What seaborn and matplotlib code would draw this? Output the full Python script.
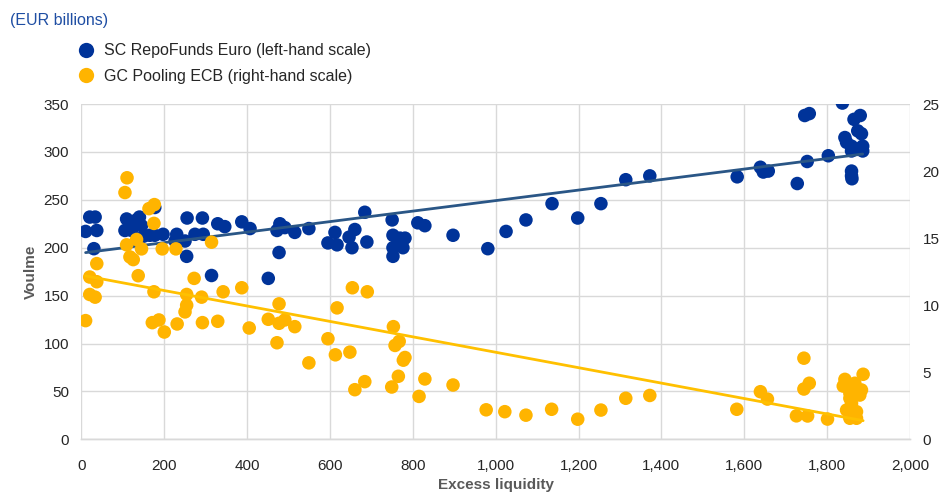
import matplotlib
matplotlib.use("Agg")
import matplotlib.pyplot as plt
from matplotlib.lines import Line2D
import seaborn as sns
import pandas as pd

# ---- data ----
sc_x = [10, 20, 33, 37, 30, 105, 109, 121, 128, 133, 140, 145, 150, 165, 177,
        177, 197, 226, 230, 250, 254, 255, 274, 292, 294, 314, 329, 346, 387, 407,
        451, 479, 472, 491, 515, 549, 684, 612, 595, 617, 660, 646, 653, 689, 750,
        752, 769, 781, 752, 776, 752, 812, 829, 897, 477, 981, 1025, 1073, 1136, 1198,
        1254, 1314, 1372, 1583, 1639, 1646, 1658, 1728, 1837, 1746, 1757, 1865, 1880, 1874, 1883,
        1843, 1847, 1859, 1886, 1871, 1859, 1886, 1752, 1803, 1859, 1859, 1860]
sc_y = [217, 232, 232, 218, 199, 218, 230, 218, 226, 229, 232, 223, 212, 213, 213,
        242, 214, 207, 214, 207, 191, 231, 214, 231, 214, 171, 225, 222, 227, 220,
        168, 225, 218, 221, 216, 220, 237, 216, 205, 203, 219, 211, 200, 206, 229,
        213, 210, 210, 200, 200, 191, 226, 223, 213, 195, 199, 217, 229, 246, 231,
        246, 271, 275, 274, 284, 279, 280, 267, 351, 338, 340, 334, 338, 322, 319,
        315, 310, 306, 306, 303, 301, 301, 290, 296, 280, 275, 272]

gc_x = [110, 105, 163, 176, 175, 109, 133, 145, 117, 125, 195, 228, 314, 37, 20,
        37, 137, 20, 33, 175, 272, 254, 254, 250, 290, 342, 387, 10, 171, 187,
        200, 231, 292, 329, 405, 451, 654, 690, 477, 617, 491, 477, 515, 472, 549,
        595, 613, 648, 753, 757, 767, 781, 777, 765, 829, 897, 684, 660, 749, 815,
        977, 1022, 1073, 1135, 1198, 1254, 1314, 1372, 1582, 1639, 1656, 1726, 1744, 1757, 1744,
        1753, 1801, 1843, 1839, 1867, 1887, 1855, 1879, 1883, 1855, 1847, 1871, 1855, 1871, 1859]
gc_y = [19.5, 18.4, 17.2, 17.5, 16.1, 14.5, 14.9, 14.2, 13.6, 13.4, 14.2, 14.2, 14.7, 13.1, 12.1,
        11.75, 12.2, 10.8, 10.6, 11.0, 12.0, 10.8, 10.0, 9.5, 10.6, 11.0, 11.3, 8.85, 8.7, 8.9,
        8.0, 8.6, 8.7, 8.8, 8.3, 8.95, 11.3, 11.0, 10.1, 9.8, 8.9, 8.65, 8.4, 7.2, 5.7,
        7.5, 6.3, 6.5, 8.4, 7.0, 7.3, 6.1, 5.9, 4.7, 4.5, 4.05, 4.3, 3.7, 3.9, 3.2,
        2.2, 2.06, 1.8, 2.24, 1.5, 2.18, 3.06, 3.27, 2.24, 3.55, 3.0, 1.75, 6.05, 4.18, 3.75,
        1.74, 1.51, 4.47, 3.97, 4.18, 4.85, 3.43, 3.3, 3.68, 3.06, 2.18, 2.06, 1.57, 1.57, 2.68]

series_names = ["SC RepoFunds Euro (left-hand scale)", "GC Pooling ECB (right-hand scale)"]
x_ticks = [0, 200, 400, 600, 800, 1000, 1200, 1400, 1600, 1800, 2000]
left_ticks = [0, 50, 100, 150, 200, 250, 300, 350]
right_ticks = [0, 5, 10, 15, 20, 25]

sc_df = pd.DataFrame({"liq": sc_x, "vol": sc_y})
gc_df = pd.DataFrame({"liq": gc_x, "vol": gc_y})

# ---- style ----
sns.set_theme(style="white")
plt.rcParams["font.family"] = ["Liberation Sans", "DejaVu Sans"]

BLUE = "#003399"
YELLOW = "#ffb400"
BLUE_LINE = "#2a5686"
YELLOW_LINE = "#ffc000"
GRID = "#d9d9d9"
TXT = "#262626"

fig = plt.figure(figsize=(9.45, 4.93), dpi=100)
ax = fig.add_axes([0.0862, 0.1089, 0.8767, 0.6801])
ax2 = ax.twinx()

sns.scatterplot(data=sc_df, x="liq", y="vol", ax=ax, color=BLUE, s=95,
                edgecolor="none", linewidth=0, zorder=3, legend=False)
sns.regplot(data=sc_df, x="liq", y="vol", ax=ax, scatter=False, ci=None,
            truncate=True, line_kws={"color": BLUE_LINE, "lw": 2.0, "zorder": 4})

sns.scatterplot(data=gc_df, x="liq", y="vol", ax=ax2, color=YELLOW, s=95,
                edgecolor="none", linewidth=0, zorder=3, legend=False)
sns.regplot(data=gc_df, x="liq", y="vol", ax=ax2, scatter=False, ci=None,
            truncate=True, line_kws={"color": YELLOW_LINE, "lw": 2.0, "zorder": 4})

ax.set_xlim(0, 2000)
ax.set_ylim(0, 350)
ax2.set_ylim(0, 25)
ax.set_xticks(x_ticks)
ax.set_xticklabels([f"{v:,}" for v in x_ticks])
ax.set_yticks(left_ticks)
ax2.set_yticks(right_ticks)

ax.grid(True, color=GRID, lw=1.0, zorder=0)
ax.set_axisbelow(True)
ax2.grid(False)

for a in (ax, ax2):
    for side in ("left", "right", "top"):
        a.spines[side].set_visible(False)
    a.spines["bottom"].set_color(GRID)
    a.spines["bottom"].set_linewidth(1.0)
    a.tick_params(axis="both", length=0, labelsize=11, colors=TXT, pad=9)
ax.tick_params(axis="x", pad=14)

ax.set_xlabel("Excess liquidity", fontsize=11, fontweight="bold", color="#595959", labelpad=4)
ax.set_ylabel("Voulme", fontsize=11, fontweight="bold", color="#595959", labelpad=4)
ax2.set_ylabel("")

fig.text(0.0106, 0.959, "(EUR billions)", fontsize=11.5, color="#1f4ea3",
         ha="left", va="center")

handles = [
    Line2D([], [], marker="o", linestyle="none", markersize=11,
           markerfacecolor=BLUE, markeredgecolor="none", label=series_names[0]),
    Line2D([], [], marker="o", linestyle="none", markersize=11,
           markerfacecolor=YELLOW, markeredgecolor="none", label=series_names[1]),
]
fig.legend(handles=handles, loc="upper left", bbox_to_anchor=(0.082, 0.912),
           frameon=False, fontsize=11.5, handletextpad=0.55, labelspacing=0.65,
           borderaxespad=0, borderpad=0, handlelength=1.1, labelcolor=TXT)

fig.savefig("out.png", dpi=100)
